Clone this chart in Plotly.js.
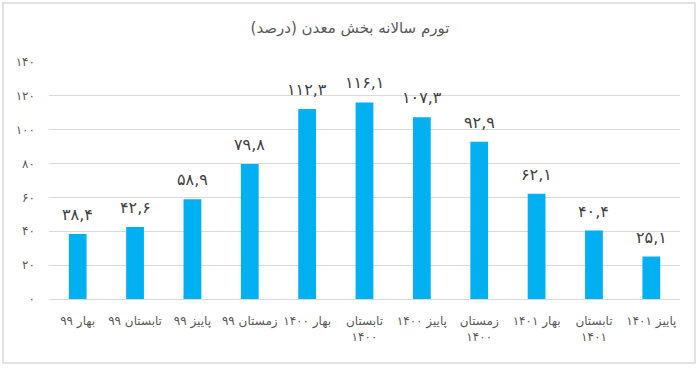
<!DOCTYPE html>
<html>
<head>
<meta charset="utf-8">
<script src="https://cdn.plot.ly/plotly-3.0.1.min.js"></script>
<style>html,body{margin:0;padding:0;background:#fff;} #chart{width:700px;height:368px;}</style>
</head>
<body>
<div id="chart"></div>
<script>
const categories = ["بهار ۹۹", "تابستان ۹۹", "پاییز ۹۹", "زمستان ۹۹", "بهار ۱۴۰۰", "تابستان<br>۱۴۰۰", "پاییز ۱۴۰۰", "زمستان<br>۱۴۰۰", "بهار ۱۴۰۱", "تابستان<br>۱۴۰۱", "پاییز ۱۴۰۱"];
const values = [38.4, 42.6, 58.9, 79.8, 112.3, 116.1, 107.3, 92.9, 62.1, 40.4, 25.1];
const valueLabels = ["۳۸,۴", "۴۲,۶", "۵۸,۹", "۷۹,۸", "۱۱۲,۳", "۱۱۶,۱", "۱۰۷,۳", "۹۲,۹", "۶۲,۱", "۴۰,۴", "۲۵,۱"];
const yTickVals = [0, 20, 40, 60, 80, 100, 120, 140];
const yTickText = ["۰", "۲۰", "۴۰", "۶۰", "۸۰", "۱۰۰", "۱۲۰", "۱۴۰"];

const L = 49, R = 20, T = 62, B = 69, W = 700, H = 368;
const pw = W - L - R, ph = H - T - B;

const trace = {
  type: 'bar',
  x: categories,
  y: values,
  marker: {color: '#00B0F0'},
  hoverinfo: 'skip'
};

const annotations = categories.map((c, i) => ({
  x: c, y: values[i], xref: 'x', yref: 'y',
  text: valueLabels[i], showarrow: false,
  yanchor: 'bottom', yshift: 8,
  font: {family: 'DejaVu Sans', size: 16, color: '#404040'}
}));

const layout = {
  width: W, height: H,
  margin: {l: L, r: R, t: T, b: B, pad: 0},
  paper_bgcolor: '#fff', plot_bgcolor: '#fff',
  title: {text: 'تورم سالانه بخش معدن (درصد)', x: 0.5, xanchor: 'center', y: 1 - 28/H, yanchor: 'middle',
          font: {family: 'DejaVu Sans', size: 15, color: '#595959'}},
  bargap: 0.69,
  showlegend: false,
  xaxis: {
    type: 'category', showgrid: false, zeroline: false, showline: false,
    ticks: '', tickangle: 0, ticklabelstandoff: 13,
    tickfont: {family: 'DejaVu Sans', size: 12, color: '#595959'}
  },
  yaxis: {
    range: [0, 140], tickvals: yTickVals, ticktext: yTickText,
    showgrid: true, gridcolor: '#D9D9D9', gridwidth: 1,
    zeroline: true, zerolinecolor: '#D9D9D9', showline: false,
    ticks: '', ticklabelstandoff: 13,
    tickfont: {family: 'DejaVu Sans', size: 12, color: '#595959'}
  },
  annotations: annotations,
  shapes: [{
    type: 'rect', xref: 'paper', yref: 'paper',
    x0: (3 - L) / pw, x1: (695 - L) / pw,
    y0: (H - B - 363) / ph, y1: (H - B - 3) / ph,
    line: {color: '#D9D9D9', width: 1.5}, fillcolor: 'rgba(0,0,0,0)', layer: 'below'
  }]
};

Plotly.newPlot('chart', [trace], layout, {displayModeBar: false, staticPlot: true});
</script>
</body>
</html>
